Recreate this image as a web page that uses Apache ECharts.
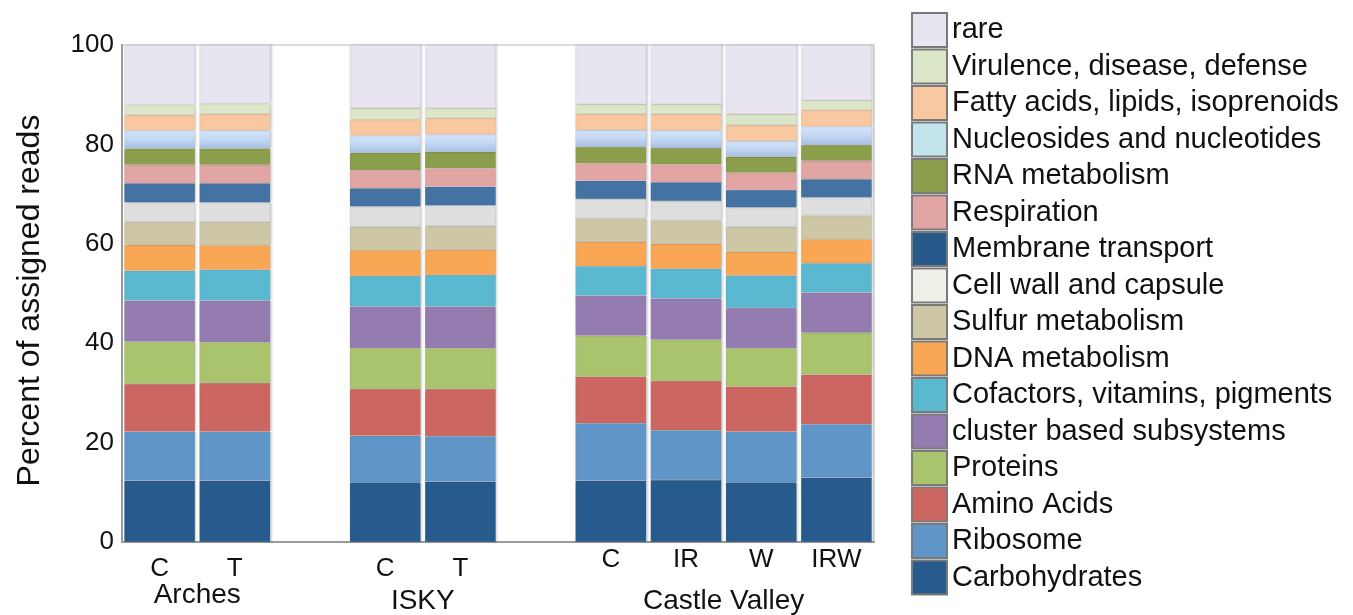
<!DOCTYPE html>
<html>
<head>
<meta charset="utf-8">
<title>Percent of assigned reads by functional category</title>
<script src="https://cdn.jsdelivr.net/npm/echarts@6/dist/echarts.min.js"></script>
<style>
  html, body { margin: 0; padding: 0; background: #ffffff; }
  #chart { width: 1353px; height: 615px; }
</style>
</head>
<body>
<div id="chart"></div>
<script>
// Slots along the x axis; empty strings are spacer columns between sites
const categories = ['C', 'T', '', 'C', 'T', '', 'C', 'IR', 'W', 'IRW'];
// Site names, each centred under its group of samples (value-axis position)
const siteNames = ['Arches', 'ISKY', 'Castle Valley'];
const sitePositions = [1, 4, 8];
const yTicks = [0, 20, 40, 60, 80, 100];

// Percent of reads per category, one value per sample
// (Arches C, Arches T, ISKY C, ISKY T, CV C, CV IR, CV W, CV IRW)
const carbohydrates = [12.3, 12.3, 12.0, 12.1, 12.3, 12.5, 12.0, 13.0];
const ribosome      = [9.9, 9.9, 9.4, 9.2, 11.6, 10.0, 10.2, 10.7];
const aminoAcids    = [9.6, 9.8, 9.4, 9.5, 9.4, 9.9, 9.1, 10.0];
const proteins      = [8.5, 8.2, 8.2, 8.2, 8.2, 8.3, 7.7, 8.4];
const clusterBased  = [8.3, 8.4, 8.4, 8.4, 8.1, 8.3, 8.1, 8.1];
const cofactors     = [6.0, 6.2, 6.1, 6.3, 5.9, 6.0, 6.5, 5.9];
const dnaMetabolism = [5.2, 4.9, 5.2, 5.1, 4.9, 5.0, 4.8, 4.8];
const sulfur        = [4.6, 4.7, 4.7, 4.8, 4.7, 4.7, 5.0, 4.8];
const cellWall      = [3.9, 3.9, 4.1, 4.1, 3.9, 3.9, 3.9, 3.6];
const membrane      = [3.9, 3.9, 3.7, 3.8, 3.7, 3.8, 3.5, 3.7];
const respiration   = [3.7, 3.7, 3.6, 3.7, 3.5, 3.6, 3.5, 3.7];
const rnaMetabolism = [3.3, 3.3, 3.5, 3.3, 3.3, 3.3, 3.2, 3.2];
const nucleosides   = [3.6, 3.6, 3.5, 3.5, 3.4, 3.5, 3.2, 3.7];
const fattyAcids    = [3.1, 3.3, 3.2, 3.3, 3.2, 3.3, 3.2, 3.3];
const virulence     = [2.1, 2.1, 2.3, 2.0, 2.0, 2.0, 2.2, 2.0];
const rare          = [12.0, 11.8, 12.7, 12.7, 11.9, 11.9, 13.9, 11.1];

// Stack order from bottom to top
const seriesDefs = [
  { name: 'Carbohydrates', values: carbohydrates, color: '#275B8E' },
  { name: 'Ribosome', values: ribosome, color: '#6095C8' },
  { name: 'Amino Acids', values: aminoAcids, color: '#CC6660' },
  { name: 'Proteins', values: proteins, color: '#A9C46C' },
  { name: 'cluster based subsystems', values: clusterBased, color: '#947CB0' },
  { name: 'Cofactors, vitamins, pigments', values: cofactors, color: '#5BB8D1' },
  { name: 'DNA metabolism', values: dnaMetabolism, color: '#F9A655' },
  { name: 'Sulfur metabolism', values: sulfur, color: '#CDC7A6' },
  { name: 'Cell wall and capsule', values: cellWall, color: '#DEDEDE', legendColor: '#EFEFE8' },
  { name: 'Membrane transport', values: membrane, color: '#4472A2', legendColor: '#27598B' },
  { name: 'Respiration', values: respiration, color: '#E1A6A4' },
  { name: 'RNA metabolism', values: rnaMetabolism, color: '#8A9E4B' },
  { name: 'Nucleosides and nucleotides', values: nucleosides,
    color: { type: 'linear', x: 0, y: 0, x2: 0, y2: 1,
             colorStops: [{ offset: 0, color: '#D3E4FA' }, { offset: 0.5, color: '#C4D8F4' }, { offset: 1, color: '#A7BFE5' }] },
    legendColor: '#C1E4ED' },
  { name: 'Fatty acids, lipids, isoprenoids', values: fattyAcids, color: '#FAC8A0' },
  { name: 'Virulence, disease, defense', values: virulence, color: '#DCE6C8' },
  { name: 'rare', values: rare, color: '#E9E5F0' }
];

// Spread the sample values across the slots, leaving spacer columns empty
function toSlots(values) {
  const out = [];
  let k = 0;
  categories.forEach(function (c) {
    out.push(c === '' ? '-' : values[k++]);
  });
  return out;
}

const FONT = '"Liberation Sans", Arial, Helvetica, sans-serif';
const INK = '#111111';
const chart = echarts.init(document.getElementById('chart'), null, { renderer: 'canvas' });

const series = seriesDefs.map(function (d) {
  return {
    name: d.name,
    type: 'bar',
    stack: 'reads',
    barWidth: 71,
    data: toSlots(d.values),
    itemStyle: {
      color: d.color,
      borderColor: 'rgba(120,120,120,0.2)',
      borderWidth: 0.5,
      shadowColor: 'rgba(0,0,0,0.18)',
      shadowBlur: 2,
      shadowOffsetX: 1.5
    },
    emphasis: { disabled: true }
  };
});

const legendData = seriesDefs.slice().reverse().map(function (d) {
  return {
    name: d.name,
    itemStyle: { color: d.legendColor || d.color, borderColor: '#7A7A7A', borderWidth: 2 }
  };
});

chart.setOption({
  animation: false,
  textStyle: { fontFamily: FONT },
  grid: {
    left: 122, right: 479, top: 45, bottom: 72,
    show: true, borderColor: '#DCDCDC', borderWidth: 2, backgroundColor: 'transparent'
  },
  legend: {
    orient: 'vertical',
    left: 911,
    top: 12,
    padding: 0,
    height: 603,
    width: 440,
    itemWidth: 35,
    itemHeight: 34,
    itemGap: 0.5,
    icon: 'rect',
    selectedMode: false,
    data: legendData,
    textStyle: { fontFamily: FONT, fontSize: 29, lineHeight: 32, color: INK }
  },
  xAxis: [
    {
      type: 'category',
      data: categories,
      axisLine: { show: true, lineStyle: { color: '#9A9A9A', width: 2 } },
      axisTick: { show: false },
      axisLabel: {
        interval: 0,
        margin: 5,
        fontFamily: FONT,
        fontSize: 26,
        color: INK,
        formatter: function (value, index) {
          return index < 6 ? '{low|' + value + '}' : '{high|' + value + '}';
        },
        rich: {
          low: { fontFamily: FONT, fontSize: 26, color: INK, padding: [9, 0, 0, 0] },
          high: { fontFamily: FONT, fontSize: 26, color: INK }
        }
      }
    },
    {
      type: 'value',
      min: 0,
      max: categories.length,
      position: 'bottom',
      axisLine: { show: false },
      axisTick: { show: false },
      splitLine: { show: false },
      axisLabel: {
        customValues: sitePositions,
        margin: 39,
        fontFamily: FONT,
        fontSize: 28,
        color: INK,
        formatter: function (v) {
          const i = sitePositions.indexOf(v);
          const name = i >= 0 ? siteNames[i] : '';
          return i === 0 ? '{first|' + name + '}' : '{rest|' + name + '}';
        },
        rich: {
          first: { fontFamily: FONT, fontSize: 28, color: INK },
          rest: { fontFamily: FONT, fontSize: 28, color: INK, padding: [6, 0, 0, 0] }
        }
      }
    }
  ],
  yAxis: {
    type: 'value',
    min: yTicks[0],
    max: yTicks[yTicks.length - 1],
    interval: yTicks[1] - yTicks[0],
    name: 'Percent of assigned reads',
    nameLocation: 'middle',
    nameGap: 76,
    nameTextStyle: { fontFamily: FONT, fontSize: 32, color: INK, padding: [0, 14, 0, 0] },
    axisLine: { show: true, lineStyle: { color: '#9A9A9A', width: 2 } },
    axisTick: { show: false },
    splitLine: { show: false },
    axisLabel: { margin: 8, fontFamily: FONT, fontSize: 26, color: INK }
  },
  series: series
});
</script>
</body>
</html>
